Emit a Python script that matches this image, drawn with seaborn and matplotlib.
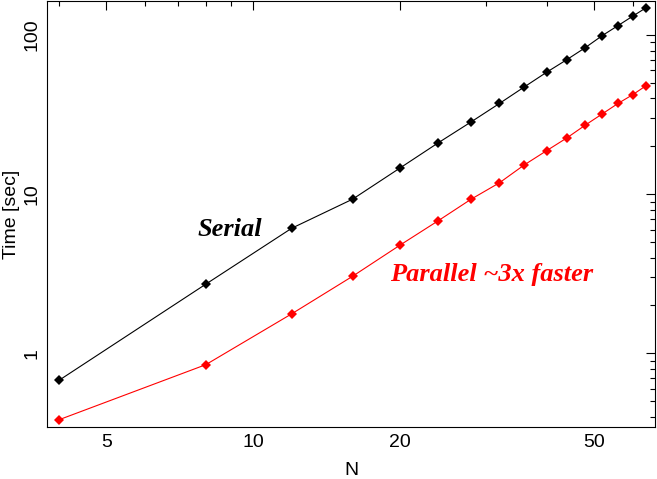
import numpy as np
import pandas as pd
import matplotlib
matplotlib.use("Agg")
import matplotlib.pyplot as plt
import seaborn as sns
from matplotlib.ticker import LogLocator, FixedLocator, FixedFormatter, NullFormatter

## Valores

n_vals = [4, 8, 12, 16, 20, 24, 28, 32, 36, 40, 44, 48, 52, 56, 60, 64]
serial_time = [0.676, 2.72, 6.11, 9.31, 14.6, 21.1, 28.5, 37.2, 47.3,
               58.5, 70.2, 83.5, 99.4, 114.8, 131.5, 149.0]
parallel_time = [0.382, 0.848, 1.77, 3.05, 4.78, 6.83, 9.31, 11.8, 15.3,
                 18.8, 22.6, 27.2, 32.0, 37.2, 42.2, 48.2]
x_ticks = [5, 10, 20, 50]
y_ticks = [1, 10, 100]

df = pd.DataFrame({
    "N": n_vals * 2,
    "Time": serial_time + parallel_time,
    "Run": ["Serial"] * len(n_vals) + ["Parallel"] * len(n_vals),
})

sns.set_style("white")
plt.rcParams['font.family'] = ['Liberation Sans', 'DejaVu Sans']
plt.rcParams['text.color'] = 'black'
plt.rcParams['axes.labelcolor'] = 'black'
plt.rcParams['xtick.color'] = 'black'
plt.rcParams['ytick.color'] = 'black'

fig = plt.figure(figsize=(6.57, 4.79), dpi=100)
ax = fig.add_axes([47 / 657, 52 / 479, 608 / 657, 426 / 479])

sns.lineplot(data=df, x="N", y="Time", hue="Run",
             palette={"Serial": "black", "Parallel": "red"},
             marker="D", markersize=5.5, markeredgewidth=0,
             linewidth=0.8, legend=False, ax=ax)

ax.set_xscale("log")
ax.set_yscale("log")
ax.set_xlim(3.78, 66.7)
ax.set_ylim(0.344, 164)

ax.xaxis.set_major_locator(FixedLocator(x_ticks))
ax.xaxis.set_major_formatter(FixedFormatter([str(t) for t in x_ticks]))
ax.xaxis.set_minor_locator(LogLocator(base=10, subs=np.arange(2, 10)))
ax.xaxis.set_minor_formatter(NullFormatter())
ax.yaxis.set_major_locator(FixedLocator(y_ticks))
ax.yaxis.set_major_formatter(FixedFormatter([str(t) for t in y_ticks]))
ax.yaxis.set_minor_locator(LogLocator(base=10, subs=np.arange(2, 10)))
ax.yaxis.set_minor_formatter(NullFormatter())

ax.tick_params(which="both", direction="in", top=True, right=True,
               width=0.8, colors="black", labelsize=14)
ax.tick_params(which="major", length=6.5, pad=5)
ax.tick_params(which="minor", length=3.6)
for lab in ax.get_yticklabels():
    lab.set_rotation(90)
    lab.set_va("center")

for s in ax.spines.values():
    s.set_linewidth(0.8)
    s.set_color("black")

ax.set_xlabel("N", fontsize=14, labelpad=8)
ax.set_ylabel("Time [sec]", fontsize=14, labelpad=2)

# Rotulos das curvas
ax.text(7.7, 5.47, "Serial", fontsize=19, fontweight="bold", fontstyle="italic",
        family="Liberation Serif", color="black")
ax.text(19.1, 2.85, "Parallel ~3x faster", fontsize=19, fontweight="bold",
        fontstyle="italic", family="Liberation Serif", color="red")

plt.savefig("out.png", dpi=100)
